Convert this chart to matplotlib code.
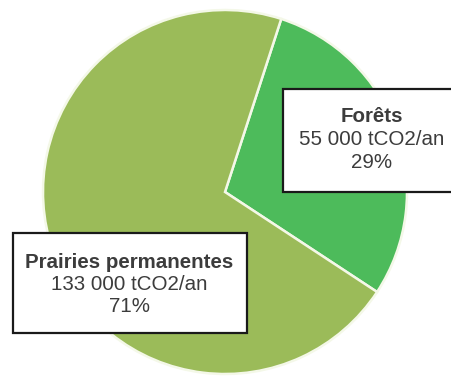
import matplotlib.pyplot as plt
from matplotlib.patches import Rectangle

# Carbon storage by land use
labels = ["Forêts", "Prairies permanentes"]
values = [55000, 133000]
shares = [29, 71]
colors = ["#4dbb5b", "#9bbb59"]

plt.rcParams["font.family"] = ["Liberation Sans", "DejaVu Sans"]

W, H = 451, 376
fig = plt.figure(figsize=(W / 100, H / 100), dpi=100)
ax = fig.add_axes([0, 0, 1, 1])

ax.pie(
    values,
    colors=colors,
    startangle=72,
    counterclock=False,
    center=(225, H - 192),
    radius=182,
    wedgeprops=dict(edgecolor="#f4f8e8", linewidth=1.8),
)

# pie() resets the limits, so work in pixel units afterwards
ax.set_xlim(0, W)
ax.set_ylim(0, H)
ax.set_aspect("equal")
ax.axis("off")


def fmt(v):
    return f"{v:,}".replace(",", " ") + " tCO2/an"


# label boxes: (x0, y0 top, x1, y1 bottom) in pixels from top-left
boxes = [(283, 89, 460, 192), (13, 233, 247, 333)]
text_x = [372, 129]
first_line = [117, 262]
fs = 14.8

for lab, v, s, (x0, y0, x1, y1), tx, ty in zip(labels, values, shares, boxes, text_x, first_line):
    ax.add_patch(Rectangle((x0, H - y1), x1 - x0, y1 - y0,
                           facecolor="white", edgecolor="#1a1a1a", linewidth=1.6,
                           zorder=3, clip_on=False))
    ax.text(tx, H - ty, lab, ha="center", va="center", fontsize=fs,
            fontweight="bold", color="#3c3c3c", zorder=4)
    ax.text(tx, H - ty - 22.5, fmt(v), ha="center", va="center", fontsize=fs,
            color="#3c3c3c", zorder=4)
    ax.text(tx, H - ty - 45, f"{s}%", ha="center", va="center", fontsize=fs,
            color="#3c3c3c", zorder=4)

fig.savefig("out.png", dpi=100)
